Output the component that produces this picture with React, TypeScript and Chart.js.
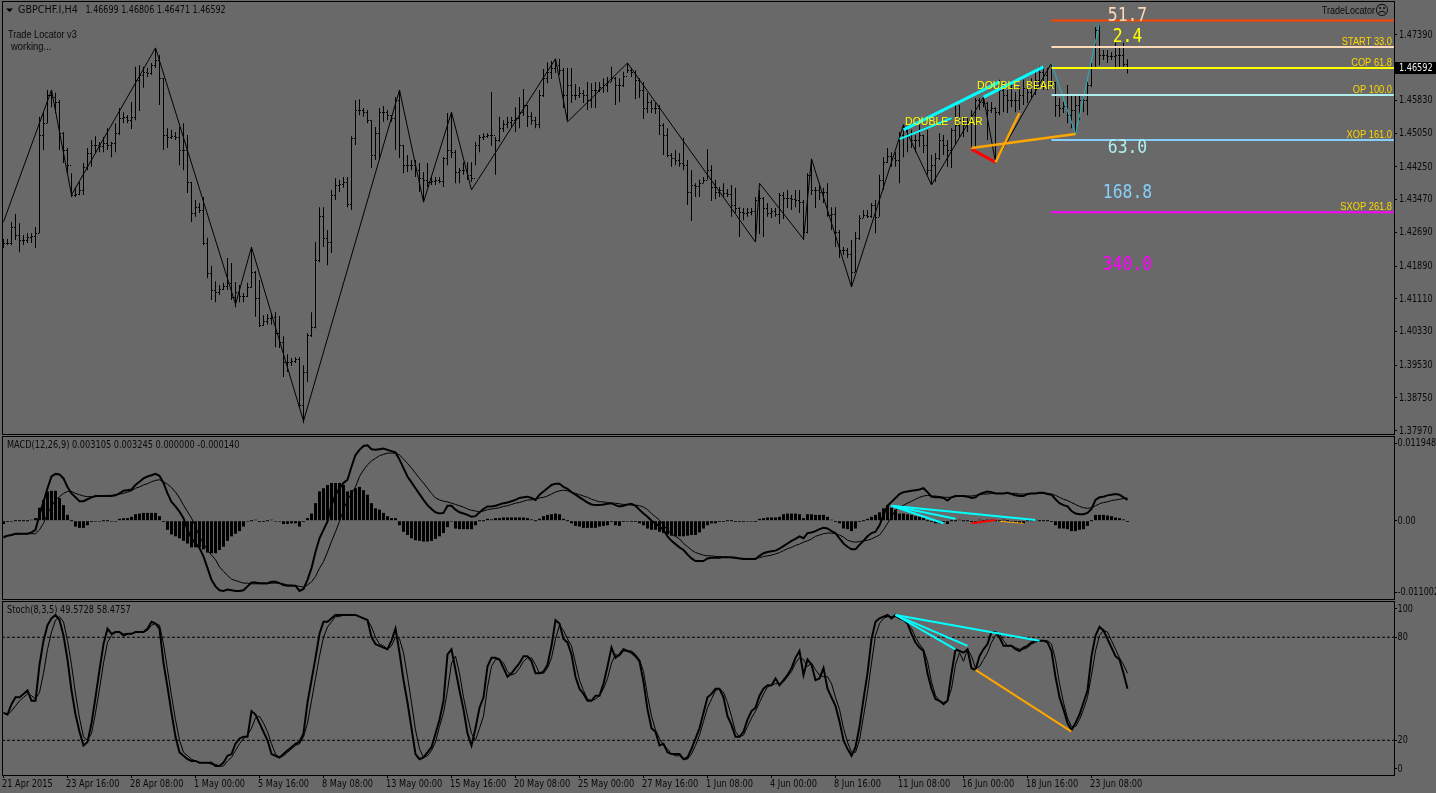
import React, { useEffect, useRef } from "react";
import { Chart, registerables } from "chart.js";
Chart.register(...registerables);

// OHLC prices, in units of 0.0001
const highs = [14253,14253,14294,14313,14291,14263,14267,14267,14282,14544,
14555,14608,14608,14601,14584,14508,14470,14410,14377,14389,
14434,14470,14489,14498,14484,14496,14517,14484,14529,14565,
14555,14548,14579,14663,14667,14663,14660,14672,14708,14691,
14636,14517,14513,14508,14520,14529,14501,14389,14346,14339,
14353,14256,14189,14153,14144,14149,14208,14196,14151,14144,
14125,14149,14234,14177,14156,14072,14075,14077,14079,14070,
14022,13979,13970,13972,13972,13953,14029,14079,14246,14329,
14329,14275,14370,14398,14394,14401,14401,14498,14584,14586,
14565,14560,14536,14520,14565,14570,14560,14548,14591,14608,
14477,14453,14441,14441,14434,14413,14434,14401,14401,14401,
14448,14553,14555,14465,14422,14436,14436,14436,14484,14501,
14505,14505,14603,14496,14544,14536,14544,14544,14567,14591,
14610,14572,14555,14544,14608,14658,14674,14677,14682,14682,
14660,14660,14660,14622,14615,14608,14627,14624,14627,14627,
14636,14639,14663,14639,14636,14651,14672,14660,14655,14636,
14627,14601,14584,14577,14572,14529,14517,14458,14465,14458,
14494,14441,14417,14386,14394,14401,14467,14429,14394,14377,
14386,14372,14382,14375,14329,14327,14327,14327,14353,14370,
14353,14339,14327,14327,14363,14365,14370,14358,14370,14370,
14346,14410,14441,14377,14386,14375,14386,14329,14329,14275,
14234,14232,14251,14270,14310,14322,14322,14339,14346,14406,
14448,14470,14460,14460,14508,14525,14517,14513,14501,14525,
14501,14513,14453,14458,14505,14501,14489,14517,14572,14572,
14544,14541,14560,14589,14589,14591,14579,14579,14567,14632,
14624,14608,14620,14603,14615,14632,14624,14636,14651,14663,
14663,14660,14672,14627,14589,14579,14620,14596,14596,14596,
14596,14627,14672,14758,14767,14703,14703,14698,14720,14708,14720,14681];
const lows = [14232,14239,14239,14251,14222,14239,14244,14244,14232,14267,
14465,14529,14567,14553,14465,14434,14410,14353,14353,14358,
14358,14417,14425,14458,14460,14460,14465,14448,14460,14501,
14529,14529,14515,14536,14558,14613,14639,14644,14660,14572,
14465,14470,14491,14489,14429,14417,14363,14294,14306,14315,
14239,14160,14108,14103,14120,14132,14132,14108,14091,14103,
14103,14115,14137,14068,14044,14046,14049,14049,13996,13994,
13925,13937,13951,13958,13851,13815,13913,14020,14041,14198,
14234,14191,14220,14346,14365,14375,14329,14322,14477,14548,
14544,14529,14422,14441,14441,14532,14536,14532,14465,14446,
14410,14413,14417,14401,14365,14341,14377,14382,14382,14386,
14377,14429,14446,14386,14386,14406,14394,14389,14429,14460,
14489,14494,14475,14406,14484,14508,14517,14520,14508,14517,
14546,14520,14525,14517,14517,14591,14624,14634,14648,14644,
14565,14536,14577,14584,14589,14577,14560,14565,14565,14603,
14601,14603,14627,14572,14579,14615,14648,14639,14586,14589,
14539,14553,14553,14551,14501,14453,14448,14425,14429,14425,
14417,14334,14296,14353,14353,14386,14394,14344,14348,14353,
14353,14353,14306,14315,14258,14298,14306,14310,14246,14265,
14258,14306,14303,14306,14289,14301,14327,14322,14329,14315,
14251,14267,14358,14327,14346,14339,14306,14275,14234,14208,
14215,14208,14139,14175,14251,14303,14303,14303,14267,14306,
14370,14434,14425,14425,14386,14448,14460,14470,14460,14472,
14458,14406,14382,14389,14441,14453,14425,14422,14477,14496,
14496,14508,14470,14470,14560,14567,14489,14553,14441,14548,
14555,14553,14567,14555,14560,14572,14577,14589,14596,14615,
14608,14608,14613,14544,14544,14553,14529,14517,14505,14536,
14555,14548,14615,14663,14667,14679,14672,14679,14660,14663,14663,14647];
const closes = [14244,14244,14282,14263,14251,14251,14258,14260,14267,14501,
14529,14596,14591,14579,14505,14465,14429,14358,14360,14370,
14425,14458,14477,14477,14475,14482,14477,14482,14505,14541,
14544,14536,14544,14632,14644,14651,14648,14667,14679,14636,
14501,14496,14498,14496,14465,14465,14389,14315,14329,14322,
14244,14172,14132,14127,14134,14141,14149,14115,14127,14118,
14118,14139,14175,14113,14049,14058,14065,14068,14029,14008,
13960,13960,13963,13968,13858,13937,14025,14044,14203,14308,
14256,14246,14358,14382,14384,14389,14337,14494,14560,14560,
14555,14536,14453,14505,14555,14555,14548,14541,14584,14477,
14429,14429,14429,14417,14398,14394,14389,14391,14394,14391,
14446,14465,14460,14413,14417,14417,14406,14398,14477,14496,
14498,14501,14501,14489,14517,14527,14532,14536,14541,14555,
14572,14546,14536,14527,14596,14636,14651,14660,14667,14655,
14596,14620,14596,14596,14601,14596,14584,14608,14608,14615,
14620,14627,14636,14620,14620,14641,14655,14651,14632,14608,
14565,14579,14565,14565,14525,14501,14453,14446,14441,14434,
14429,14365,14382,14379,14386,14394,14417,14377,14365,14370,
14363,14360,14334,14327,14317,14315,14317,14320,14346,14351,
14327,14315,14320,14313,14358,14351,14351,14348,14346,14341,
14270,14406,14370,14370,14365,14365,14310,14313,14270,14227,
14227,14218,14175,14256,14303,14310,14308,14334,14306,14394,
14436,14451,14446,14441,14501,14513,14501,14489,14489,14501,
14477,14417,14429,14446,14489,14477,14465,14513,14525,14536,
14525,14532,14548,14584,14579,14577,14560,14565,14555,14608,
14596,14584,14584,14584,14596,14613,14603,14620,14632,14651,
14644,14620,14627,14572,14565,14570,14548,14560,14572,14584,
14584,14620,14660,14751,14691,14691,14689,14689,14691,14691,14670,14659];
const opens = [14246,14244,14244,14282,14263,14251,14251,14258,14260,14267,
14501,14529,14596,14591,14579,14505,14465,14429,14358,14360,
14370,14425,14458,14477,14477,14475,14482,14477,14482,14505,
14541,14544,14536,14544,14632,14644,14651,14648,14667,14679,
14636,14501,14496,14498,14496,14465,14465,14389,14315,14329,
14322,14244,14172,14132,14127,14134,14141,14149,14115,14127,
14118,14118,14139,14175,14113,14049,14058,14065,14068,14029,
14008,13960,13960,13963,13968,13858,13937,14025,14044,14203,
14308,14256,14246,14358,14382,14384,14389,14337,14494,14560,
14560,14555,14536,14453,14505,14555,14555,14548,14541,14584,
14477,14429,14429,14429,14417,14398,14394,14389,14391,14394,
14391,14446,14465,14460,14413,14417,14417,14406,14398,14477,
14496,14498,14501,14501,14489,14517,14527,14532,14536,14541,
14555,14572,14546,14536,14527,14596,14636,14651,14660,14667,
14655,14596,14620,14596,14596,14601,14596,14584,14608,14608,
14615,14620,14627,14636,14620,14620,14641,14655,14651,14632,
14608,14565,14579,14565,14565,14525,14501,14453,14446,14441,
14434,14429,14365,14382,14379,14386,14394,14417,14377,14365,
14370,14363,14360,14334,14327,14317,14315,14317,14320,14346,
14351,14327,14315,14320,14313,14358,14351,14351,14348,14346,
14341,14270,14406,14370,14370,14365,14365,14310,14313,14270,
14227,14227,14218,14175,14256,14303,14310,14308,14334,14306,
14394,14436,14451,14446,14441,14501,14513,14501,14489,14489,
14501,14477,14417,14429,14446,14489,14477,14465,14513,14525,
14536,14525,14532,14548,14584,14579,14577,14560,14565,14555,
14608,14596,14584,14584,14584,14596,14613,14603,14620,14632,
14651,14644,14620,14627,14572,14565,14570,14548,14560,14572,
14584,14584,14620,14660,14751,14691,14691,14689,14689,14691,14691,14670];

const zigzagBars = [0,12,17,38,58,62,75,99,105,112,117,138,141,156,188,189,200,202,212,225,232,245,248,262];
const zigzagPrices = [14294,14608,14358,14708,14098,14234,13820,14608,14341,14555,14370,14682,14532,14672,14246,14386,14253,14444,14139,14525,14382,14591,14436,14672];
const tealBars = [262,268,274];
const tealPrices = [14672,14503,14767];

// MACD values, in units of 0.0001
const macdMain = [-26,-23,-22,-20,-20,-20,-20,-18,-14,9,
29,50,68,72,71,65,52,42,36,30,
30,33,36,38,38,38,38,38,39,42,
46,47,48,55,60,65,68,70,72,69,
58,42,29,22,14,4,-14,-27,-35,-42,
-55,-73,-91,-101,-107,-108,-106,-107,-108,-108,
-107,-101,-95,-95,-96,-96,-96,-94,-94,-96,
-99,-100,-100,-100,-108,-105,-91,-73,-48,-27,
-14,-1,24,40,50,58,63,83,101,109,
115,116,110,109,110,111,109,107,105,94,
81,68,59,50,41,32,24,18,13,11,
12,23,23,17,13,11,9,6,7,13,
18,22,22,23,25,27,28,30,32,35,
36,37,35,32,40,45,50,55,57,57,
52,49,44,40,36,32,28,25,24,24,
25,26,27,24,22,23,25,26,23,17,
11,6,0,-4,-9,-14,-24,-31,-36,-41,
-45,-52,-58,-62,-62,-62,-58,-57,-57,-57,
-56,-56,-56,-57,-58,-59,-59,-59,-59,-54,
-50,-48,-47,-46,-43,-39,-35,-31,-28,-24,
-27,-19,-18,-16,-13,-11,-12,-16,-19,-27,
-35,-40,-44,-44,-37,-31,-24,-19,-17,-7,
9,23,29,35,41,44,45,46,47,48,
50,44,37,36,36,35,31,36,38,38,
38,37,35,36,41,43,45,44,42,42,
42,43,41,39,38,38,41,42,42,43,
43,41,40,33,27,24,22,15,11,10,
10,12,18,32,36,37,39,40,41,40,36,32];
const macdSignal = [-24,-23,-22,-21,-20,-20,-20,-20,-20,-14,
-4,11,22,32,37,42,45,45,42,40,
38,37,37,37,38,38,39,39,40,41,
42,44,46,50,52,55,57,60,62,63,
60,56,51,44,35,24,14,4,-9,-24,
-35,-45,-53,-60,-71,-78,-84,-90,-92,-94,
-96,-96,-97,-97,-97,-97,-97,-96,-96,-96,
-97,-99,-99,-100,-101,-102,-99,-94,-86,-73,
-63,-48,-32,-17,-1,17,32,42,52,68,
78,86,92,96,100,102,104,104,104,101,
95,88,81,73,65,58,50,42,35,32,
30,29,27,25,23,21,18,16,15,13,
15,17,18,19,20,22,23,25,27,28,
30,32,32,33,35,36,38,41,44,46,
47,46,44,42,40,38,36,33,31,29,
29,28,27,27,26,25,25,24,24,23,
21,17,11,6,1,-7,-14,-21,-24,-28,
-35,-40,-45,-49,-51,-53,-54,-54,-55,-55,
-56,-56,-57,-58,-58,-58,-59,-58,-58,-57,
-55,-54,-53,-51,-49,-46,-43,-41,-38,-36,
-33,-31,-28,-24,-22,-20,-19,-19,-20,-22,
-25,-30,-32,-33,-32,-31,-30,-28,-25,-22,
-14,-4,6,16,21,24,27,30,33,36,
38,39,38,38,37,36,36,36,37,38,
38,38,38,39,40,41,41,42,42,42,
42,42,42,42,41,41,41,42,42,42,
42,42,41,39,36,33,31,28,25,22,
20,19,20,23,26,28,29,31,32,33,34,35];
const macdHist = [-5,-2,-1,0,0,0,0,1,4,20,
32,45,46,46,35,24,9,0,-9,-11,
-11,-7,-2,-1,-1,0,0,-1,-1,3,
4,4,6,10,11,12,12,12,12,7,
-2,-14,-21,-24,-27,-31,-35,-41,-41,-41,
-44,-49,-50,-50,-45,-40,-31,-24,-20,-16,
-9,-1,0,1,-2,-2,0,1,-1,-1,
-5,-5,-4,-4,-9,-2,4,11,27,45,
50,55,58,58,58,55,45,47,50,52,
47,40,27,19,17,12,7,4,4,-7,
-17,-22,-27,-30,-31,-32,-32,-31,-28,-24,
-19,-10,-1,-12,-13,-13,-13,-13,-7,0,
0,3,2,4,4,5,5,5,5,5,
5,4,2,0,3,7,9,10,11,10,
3,0,-4,-8,-9,-11,-11,-11,-11,-9,
-8,-7,-2,-7,-8,-2,-1,-2,-2,-4,
-7,-12,-14,-14,-17,-19,-21,-23,-24,-24,
-24,-23,-22,-22,-18,-12,-7,-4,-4,-2,
-2,0,0,-2,-2,-2,-1,-1,-2,3,
4,5,5,5,6,10,11,11,11,10,
4,10,10,9,9,9,6,1,-2,-4,
-12,-13,-16,-12,-2,0,3,6,9,13,
19,24,20,17,11,11,10,9,7,6,
4,0,-2,-4,-4,-2,-5,0,0,1,
0,0,-2,-4,1,0,1,1,0,0,
1,0,-1,-3,-4,-4,0,0,1,0,
0,0,-2,-7,-12,-12,-13,-16,-16,-14,
-13,-8,0,9,9,9,8,7,5,4,2,-2];

// Stochastic
const stochK = [36,35,41,45,45,47,49,43,43,64,
78,87,91,93,90,81,67,49,35,25,
17,19,30,45,61,76,85,82,83,83,
81,82,82,83,83,83,85,89,88,85,
65,51,36,22,13,11,9,8,8,7,
7,7,7,5,5,7,11,12,18,21,
22,22,37,35,30,25,20,12,11,10,
12,14,16,18,19,24,42,55,68,82,
89,89,91,93,93,93,93,93,93,92,
91,90,80,76,75,74,73,78,85,71,
55,42,27,12,9,10,13,16,24,32,
43,70,73,61,49,38,24,17,27,39,
45,63,68,68,67,62,57,59,62,65,
69,69,66,59,59,60,64,75,90,88,
79,77,70,57,50,47,43,43,46,46,
53,63,74,68,70,73,72,71,69,66,
54,38,27,25,17,18,13,12,12,12,
9,10,15,21,27,36,45,47,50,50,
45,34,29,22,22,25,32,37,39,46,
50,52,52,56,52,55,58,62,68,72,
58,67,64,55,56,62,50,45,40,31,
20,15,11,16,28,44,59,79,89,91,
92,93,91,93,91,90,88,82,77,74,
72,59,50,44,43,41,43,59,73,72,
71,73,62,61,69,73,76,83,83,80,
75,75,75,73,72,74,75,77,78,78,
78,77,72,57,45,38,30,26,30,35,
42,49,69,81,86,84,79,74,69,67,59,50];
const stochD = [36,35,37,40,43,45,47,46,44,48,
59,73,83,90,92,89,78,64,47,33,
22,20,24,36,50,65,77,81,83,83,
82,82,82,83,83,83,84,87,88,87,
76,61,46,32,20,13,11,9,8,7,
7,7,6,6,5,5,8,10,14,18,
21,23,27,33,34,30,25,18,12,10,
11,13,15,17,18,22,30,43,56,69,
80,86,89,92,92,93,93,93,93,92,
91,90,86,80,76,75,73,75,80,79,
71,57,42,26,15,10,11,14,19,28,
36,49,65,69,59,45,34,24,20,27,
34,51,63,67,67,65,60,58,59,62,
66,68,68,64,59,59,62,68,79,87,
84,79,75,65,55,49,44,43,44,46,
50,56,65,70,69,72,72,72,70,67,
60,46,34,26,21,17,15,12,11,11,
9,9,12,17,23,31,39,44,49,50,
48,42,34,25,22,23,28,33,37,42,
47,51,52,53,53,54,57,60,65,68,
67,63,65,61,58,57,57,53,45,38,
27,19,13,13,20,34,48,65,81,88,
91,92,92,92,91,90,88,85,80,76,
73,66,54,46,43,42,43,50,64,71,
66,73,69,62,63,67,71,77,81,82,
78,75,75,74,73,73,74,76,77,78,
78,78,76,67,53,42,33,28,28,32,
38,45,58,72,81,84,83,78,73,68,64,59];

// Overlay annotations: each is [bar, value] pairs
const mainPatternLines = [
  { pts: [[225,14513],[249,14627]], color: "#00FFFF", width: 3 },
  { pts: [[245,14591],[260,14663]], color: "#00FFFF", width: 3 },
  { pts: [[224,14491],[237,14541]], color: "#00FFFF", width: 2 },
  { pts: [[242,14470],[268,14503]], color: "#FFA500", width: 2.5 },
  { pts: [[248,14436],[254,14553]], color: "#FFA500", width: 2.5 },
  { pts: [[242,14467],[248,14436]], color: "#FF0000", width: 3 },
];
const macdPatternLines = [
  { pts: [[222,23],[258,1]], color: "#00FFFF", width: 2 },
  { pts: [[222,23],[238,3]], color: "#00FFFF", width: 2 },
  { pts: [[222,23],[235,-4]], color: "#00FFFF", width: 2 },
  { pts: [[242,-4],[248,1]], color: "#FF0000", width: 2 },
  { pts: [[249,-1],[255,-4]], color: "#FFA500", width: 1 },
];
const stochPatternLines = [
  { pts: [[223,93],[259,78]], color: "#00FFFF", width: 2 },
  { pts: [[223,93],[241,75]], color: "#00FFFF", width: 2 },
  { pts: [[223,93],[238,73]], color: "#00FFFF", width: 2 },
  { pts: [[243,61],[267,25]], color: "#FFA500", width: 2 },
];

const levelPrices = [14773,14710,14660,14596,14489,14317];
const levelColors = ["#FF4500","#FFDAB9","#FFFF00","#AFEEEE","#87CEFA","#FF00FF"];
const levelLabels = ["","START 33.0","COP 61.8","OP 100.0","XOP 161.0","SXOP 261.8"];
const bigTexts = ["51.7","2.4","63.0","168.8","340.0"];
const bigPrices = [14789,14739,14475,14366,14196];
const bigColors = ["#FFDAB9","#FFFF00","#AFEEEE","#87CEFA","#FF00FF"];
const patternTexts = ["DOUBLE  BEAR","DOUBLE  BEAR"];
const patternBars = [225.4,243.4];
const patternPrices = [14532,14617];

const priceTicks = [1.4739,1.4661,1.4583,1.4505,1.4425,1.4347,1.4269,1.4189,1.4111,1.4033,1.3953,1.3875,1.3797];
const macdTicks = [0.011948,0,-0.011002];
const stochTickSpots = [96.5,80,20,3.5];
const stochTickLabels = ["100","80","20","0"];
const xTickBars = [0,16,32,48,64,80,96,112,128,144,160,176,192,208,224,240,256,272];
const xTickLabels = ["21 Apr 2015","23 Apr 16:00","28 Apr 08:00","1 May 00:00","5 May 16:00","8 May 08:00","13 May 00:00","15 May 16:00","20 May 08:00","25 May 00:00","27 May 16:00","1 Jun 08:00","4 Jun 00:00","8 Jun 16:00","11 Jun 08:00","16 Jun 00:00","18 Jun 16:00","23 Jun 08:00"];

const symbolName = "GBPCHF.I,H4";
const symbolQuote = "1.46699 1.46806 1.46471 1.46592";
const macdHeader = "MACD(12,26,9) 0.003105 0.003245 0.000000 -0.000140";
const stochHeader = "Stoch(8,3,5) 49.5728 58.4757";
const lastPriceText = "1.46592";

const AXIS_FONT = '11px "DejaVu Sans Condensed","DejaVu Sans",sans-serif';
const LABEL_FONT = '"Liberation Sans",sans-serif';
const INK = "#0a0a0a";
const X_MIN = -0.375;
const X_MAX = 347.625;

const p = (v: number) => v / 10000;
const series = (arr: number[], k = 1) => arr.map((y, i) => ({ x: i, y: y * k }));
const pairs = (xs: number[], ys: number[]) => xs.map((x, i) => ({ x, y: p(ys[i]) }));

function lineSet(data: any[], color: string, width: number, order: number, dash?: number[]) {
  return {
    type: "line", data, borderColor: color, borderWidth: width, pointRadius: 0, tension: 0,
    order, borderDash: dash || [], borderCapStyle: "butt", borderJoinStyle: "miter",
  };
}
function drawText(ctx: any, s: string, x: number, y: number, font: string, color: string, align = "left", sx = 1) {
  ctx.save();
  ctx.translate(x, y);
  ctx.scale(sx, 1);
  ctx.font = font; ctx.fillStyle = color; ctx.textAlign = align; ctx.textBaseline = "middle";
  ctx.fillText(s, 0, 0);
  ctx.restore();
}
const framePlugin = {
  id: "frame",
  afterDraw(chart: any) {
    const { ctx, chartArea: a } = chart;
    ctx.save();
    ctx.fillStyle = "#000";
    const w = a.right - a.left + 1, h = a.bottom - a.top + 1;
    ctx.fillRect(a.left, a.top, w, 1);
    ctx.fillRect(a.left, a.bottom, w, 1);
    ctx.fillRect(a.left, a.top, 1, h);
    ctx.fillRect(a.right, a.top, 1, h);
    ctx.restore();
  },
};
const axisLabelPlugin = (labelX: number) => ({
  id: "axisLabels",
  afterDraw(chart: any) {
    const { ctx, scales: { x, y } } = chart;
    y.ticks.forEach((t: any) => {
      drawText(ctx, String(t.label), labelX, y.getPixelForValue(t.value), AXIS_FONT, INK, "left", 0.82);
    });
    if (x.options.display !== false) {
      x.ticks.forEach((t: any) => {
        drawText(ctx, String(t.label), x.getPixelForValue(t.value) - 1.5, 184, AXIS_FONT, INK, "left", 0.83);
      });
    }
  },
});
const noMargins = (s: any) => { s.paddingTop = 0; s.paddingBottom = 0; s.paddingLeft = 0; s.paddingRight = 0; };
function options(yMin: number, yMax: number, ticks: number[], label: (v: number) => string, bottom: number, xAxis?: any) {
  return {
    responsive: false, animation: false as const, devicePixelRatio: 1, events: [] as string[],
    layout: { padding: { left: 2, right: 0, top: 1, bottom } },
    plugins: { legend: { display: false }, tooltip: { enabled: false } },
    scales: {
      x: xAxis || { type: "linear", min: X_MIN, max: X_MAX, display: false, offset: false },
      y: {
        type: "linear", position: "right", min: yMin, max: yMax,
        afterBuildTicks: (s: any) => { s.ticks = ticks.map((value) => ({ value })); },
        afterFit: (s: any) => { s.width = 42; noMargins(s); },
        grid: { drawOnChartArea: false, drawTicks: true, tickLength: 3, tickColor: "#000" },
        border: { display: false },
        ticks: { display: false, autoSkip: false, callback: label },
      },
    },
  };
}

export default function App() {
  const mainRef = useRef<HTMLCanvasElement>(null);
  const macdRef = useRef<HTMLCanvasElement>(null);
  const stochRef = useRef<HTMLCanvasElement>(null);

  useEffect(() => {
    const ohlcPlugin = {
      id: "ohlcTicks",
      afterDatasetDraw(chart: any, args: any) {
        if (args.index !== 0) return;
        const { ctx, scales: { x, y } } = chart;
        ctx.save();
        ctx.fillStyle = "#000";
        closes.forEach((c, i) => {
          const px = x.getPixelForValue(i);
          ctx.fillRect(px - 1.5, Math.round(y.getPixelForValue(p(opens[i]))), 1, 1);
          ctx.fillRect(px + 0.5, Math.round(y.getPixelForValue(p(c))), 1, 1);
        });
        ctx.restore();
      },
    };
    const mainTextPlugin = {
      id: "mainText",
      afterDraw(chart: any) {
        const { ctx, scales: { x, y }, chartArea: a } = chart;
        ctx.save();
        ctx.fillStyle = "#000";
        ctx.beginPath(); ctx.moveTo(6, 8.5); ctx.lineTo(13, 8.5); ctx.lineTo(9.5, 12); ctx.closePath(); ctx.fill();
        drawText(ctx, symbolName, 18, 10, AXIS_FONT, INK, "left", 0.97);
        drawText(ctx, symbolQuote, 85.5, 10, AXIS_FONT, INK, "left", 0.81);
        drawText(ctx, "Trade Locator v3", 8, 35, `10.5px ${LABEL_FONT}`, INK, "left", 0.87);
        drawText(ctx, "working...", 11, 47, `10.5px ${LABEL_FONT}`, INK, "left", 0.9);
        drawText(ctx, "TradeLocator", 1375, 11, `10px ${LABEL_FONT}`, INK, "right", 0.9);
        drawText(ctx, "\u2639", 1382, 11, `14px "DejaVu Sans"`, INK, "center");
        levelLabels.forEach((s, i) => {
          if (s) drawText(ctx, s, a.right - 2, y.getPixelForValue(p(levelPrices[i])) - 5, `10px ${LABEL_FONT}`, "#FFD700", "right", 0.93);
        });
        bigTexts.forEach((s, i) => {
          drawText(ctx, s, x.getPixelForValue(281), y.getPixelForValue(p(bigPrices[i])) + 1.5, `20px "DejaVu Sans Mono"`, bigColors[i], "center", 0.82);
        });
        patternTexts.forEach((s, i) => {
          drawText(ctx, s, x.getPixelForValue(patternBars[i]), y.getPixelForValue(p(patternPrices[i])), `10.5px ${LABEL_FONT}`, "#FFFF00");
        });
        ctx.fillStyle = "#000";
        ctx.fillRect(1395, 62, 41, 12);
        drawText(ctx, lastPriceText, 1399, 68, AXIS_FONT, "#f0f0f0", "left", 0.82);
        ctx.restore();
      },
    };
    const headerPlugin = (text: string) => ({
      id: "header",
      afterDraw(chart: any) {
        drawText(chart.ctx, text, 7, 10, AXIS_FONT, INK, "left", 0.83);
      },
    });

    const main = new Chart(mainRef.current as any, {
      type: "bar",
      data: {
        datasets: [
          { data: highs.map((h, i) => ({ x: i, y: [p(lows[i]), p(h)] })), backgroundColor: "#000", barThickness: 1, borderWidth: 0, inflateAmount: 0, grouped: false, order: 30 },
          lineSet(pairs(zigzagBars, zigzagPrices), "#000", 1, 20),
          lineSet(pairs(tealBars, tealPrices), "#1cb4c4", 1, 19),
          ...levelPrices.map((v, i) => lineSet([{ x: 262, y: p(v) }, { x: 347.6, y: p(v) }], levelColors[i], 2, 10)),
          ...mainPatternLines.map((l) => lineSet(l.pts.map(([x, y]) => ({ x, y: p(y) })), l.color, l.width, 5)),
        ],
      } as any,
      options: options(1.37893, 1.48196, priceTicks, (v: any) => Number(v).toFixed(5), 1) as any,
      plugins: [ohlcPlugin, framePlugin, axisLabelPlugin(1399), mainTextPlugin],
    });

    const macd = new Chart(macdRef.current as any, {
      type: "bar",
      data: {
        datasets: [
          { data: series(macdHist, 0.0001), backgroundColor: "#000", barThickness: 3, borderWidth: 0, inflateAmount: 0, minBarLength: 1, grouped: false, order: 30 },
          lineSet(series(macdSignal, 0.0001), "#000", 1, 20),
          lineSet(series(macdMain, 0.0001), "#000", 2, 19),
          ...macdPatternLines.map((l) => lineSet(l.pts.map(([x, y]) => ({ x, y: y * 0.0001 })), l.color, l.width, 5)),
        ],
      } as any,
      options: options(-0.01204, 0.01303, macdTicks, (v: any) => (v === 0 ? "0.00" : Number(v).toFixed(6)), 1) as any,
      plugins: [framePlugin, axisLabelPlugin(1397.5), headerPlugin(macdHeader)],
    });

    const stoch = new Chart(stochRef.current as any, {
      type: "line",
      data: {
        datasets: [
          lineSet([{ x: X_MIN, y: 80 }, { x: X_MAX, y: 80 }], "#000", 1, 30, [3, 2]),
          lineSet([{ x: X_MIN, y: 20 }, { x: X_MAX, y: 20 }], "#000", 1, 30, [3, 2]),
          lineSet(series(stochD), "#000", 1, 20),
          lineSet(series(stochK), "#000", 2, 19),
          ...stochPatternLines.map((l) => lineSet(l.pts.map(([x, y]) => ({ x, y })), l.color, l.width, 5)),
        ],
      } as any,
      options: options(-0.2, 101.1, stochTickSpots, (v: any) => stochTickLabels[stochTickSpots.indexOf(Number(v))], 0, {
        type: "linear", min: X_MIN, max: X_MAX, offset: false,
        afterBuildTicks: (s: any) => { s.ticks = xTickBars.map((value) => ({ value })); },
        afterFit: (s: any) => { s.height = 18; noMargins(s); },
        grid: { drawOnChartArea: false, drawTicks: true, tickLength: 3, tickColor: "#000" },
        border: { display: false },
        ticks: {
          display: false, autoSkip: false,
          callback: (v: any) => xTickLabels[xTickBars.indexOf(Number(v))],
        },
      }) as any,
      plugins: [framePlugin, axisLabelPlugin(1397.5), headerPlugin(stochHeader)],
    });

    return () => { main.destroy(); macd.destroy(); stoch.destroy(); };
  }, []);

  const abs = (top: number): React.CSSProperties => ({ position: "absolute", left: 0, top, display: "block" });
  return (
    <div style={{ position: "fixed", left: 0, top: 0, width: 1436, height: 793, background: "#696969", overflow: "hidden" }}>
      <canvas ref={mainRef} width={1436} height={435} style={abs(0)} />
      <canvas ref={macdRef} width={1436} height={165} style={abs(435)} />
      <canvas ref={stochRef} width={1436} height={193} style={abs(600)} />
    </div>
  );
}
